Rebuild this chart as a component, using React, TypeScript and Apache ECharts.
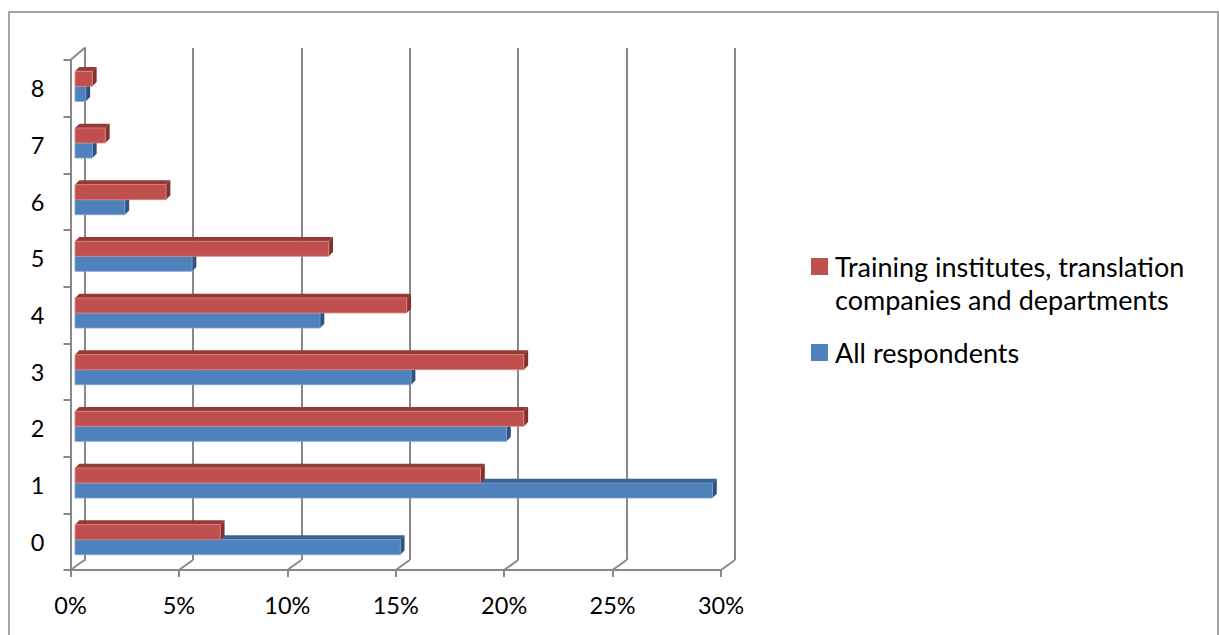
import React, { useEffect, useRef } from "react";
import * as echarts from "echarts";

const categories = ["0", "1", "2", "3", "4", "5", "6", "7", "8"];
const allRespondents = [15.0, 29.4, 19.9, 15.5, 11.3, 5.4, 2.3, 0.8, 0.5];
const trainingInstitutes = [6.7, 18.7, 20.7, 20.7, 15.3, 11.7, 4.2, 1.4, 0.8];
const xTicks = [0, 5, 10, 15, 20, 25, 30];

const RED_NAME = "Training institutes, translation companies and departments";
const BLUE_NAME = "All respondents";
const FONT = "Lato, 'Open Sans', sans-serif";
const GRID_COLOR = "#888888";

function barRenderer(upper: boolean, front: string, top: string, side: string, edge: string) {
  return (params: any, api: any) => {
    const v = api.value(0);
    const i = api.value(1);
    const p0 = api.coord([0, i]);
    const p1 = api.coord([v, i]);
    const band = api.size([0, 1])[1];
    const h = band * 0.265;
    const cy = p0[1] - 2;
    const y = upper ? cy - h : cy;
    const xs = p0[0] + 4.5;
    const xe = p1[0] + 4.5;
    const d = 4.3;
    return {
      type: "group",
      children: [
        {
          type: "polygon",
          shape: { points: [[xs, y], [xe, y], [xe + d, y - d], [xs + d, y - d]] },
          style: { fill: top },
        },
        {
          type: "polygon",
          shape: { points: [[xe, y], [xe + d, y - d], [xe + d, y + h - d], [xe, y + h]] },
          style: { fill: side },
        },
        {
          type: "rect",
          shape: { x: xs, y: y, width: Math.max(xe - xs, 0), height: h },
          style: { fill: front, stroke: edge, lineWidth: 0.8 },
        },
      ],
    };
  };
}

export default function App() {
  const ref = useRef<HTMLDivElement>(null);
  useEffect(() => {
    if (!ref.current) return;
    const chart = echarts.init(ref.current, null, { renderer: "svg" });
    const option: any = {
      animation: false,
      backgroundColor: "#ffffff",
      textStyle: { fontFamily: FONT },
      graphic: [
        {
          type: "rect",
          shape: { x: 9, y: 12, width: 1209, height: 640 },
          style: { fill: "none", stroke: "#878787", lineWidth: 1.5 },
          silent: true,
        },
      ],
      grid: [
        { left: 70.5, top: 60, right: 498, bottom: 65 },
        { left: 84.5, top: 48, right: 484, bottom: 75 },
      ],
      xAxis: [
        {
          type: "value",
          gridIndex: 0,
          min: 0,
          max: 30,
          interval: 5,
          axisLine: { show: true, lineStyle: { color: GRID_COLOR, width: 2 } },
          axisTick: { show: true, length: 7, lineStyle: { color: GRID_COLOR, width: 2 } },
          axisLabel: {
            formatter: "{value}%",
            color: "#000",
            fontSize: 23.5,
            fontFamily: FONT,
            margin: 23,
          },
          splitLine: { show: false },
        },
        {
          type: "value",
          gridIndex: 1,
          min: 0,
          max: 30,
          interval: 5,
          axisLine: { show: false },
          axisTick: { show: false },
          axisLabel: { show: false },
          splitLine: { show: true, lineStyle: { color: GRID_COLOR, width: 2 } },
        },
      ],
      yAxis: [
        {
          type: "category",
          gridIndex: 0,
          data: categories,
          axisLine: { show: true, lineStyle: { color: GRID_COLOR, width: 2 } },
          axisTick: { show: true, length: 7, lineStyle: { color: GRID_COLOR, width: 2 } },
          axisLabel: { color: "#000", fontSize: 23.5, fontFamily: FONT, margin: 26 },
          splitLine: { show: false },
        },
        {
          type: "category",
          gridIndex: 1,
          data: categories,
          axisLine: { show: true, lineStyle: { color: GRID_COLOR, width: 2 } },
          axisTick: { show: false },
          axisLabel: { show: false },
          splitLine: { show: false },
        },
      ],
      legend: {
        orient: "vertical",
        left: 811,
        top: 217,
        padding: 0,
        itemWidth: 17,
        itemHeight: 17,
        itemGap: 20,
        icon: "rect",
        selectedMode: false,
        formatter: (name: string) =>
          name === RED_NAME ? "\nTraining institutes, translation\ncompanies and departments" : name,
        data: [{ name: RED_NAME }, { name: BLUE_NAME }],
        textStyle: {
          color: "#000",
          fontSize: 27,
          fontFamily: FONT,
          lineHeight: 33,
          padding: [0, 0, 0, 2],
        },
      },
      series: [
        {
          type: "custom",
          name: "depthLines",
          coordinateSystem: "cartesian2d",
          xAxisIndex: 0,
          yAxisIndex: 0,
          silent: true,
          clip: false,
          z: 1,
          data: xTicks.map((t) => [t, 0]),
          renderItem: (params: any, api: any) => {
            const cs = params.coordSys;
            const x = api.coord([api.value(0), 0])[0];
            const yb = cs.y + cs.height;
            const children: any[] = [
              {
                type: "line",
                shape: { x1: x, y1: yb, x2: x + 14, y2: yb - 10 },
                style: { stroke: GRID_COLOR, lineWidth: 2 },
              },
            ];
            if (params.dataIndex === 0) {
              children.push({
                type: "line",
                shape: { x1: cs.x, y1: cs.y, x2: cs.x + 14, y2: cs.y - 12 },
                style: { stroke: GRID_COLOR, lineWidth: 2 },
              });
            }
            return { type: "group", children };
          },
        },
        {
          type: "custom",
          name: BLUE_NAME,
          coordinateSystem: "cartesian2d",
          xAxisIndex: 0,
          yAxisIndex: 0,
          clip: false,
          z: 3,
          itemStyle: { color: "#4F81BD" },
          data: allRespondents.map((v, i) => [v, i]),
          renderItem: barRenderer(false, "#4F81BD", "#3A6294", "#2F5283", "#7FA2D0"),
        },
        {
          type: "custom",
          name: RED_NAME,
          coordinateSystem: "cartesian2d",
          xAxisIndex: 0,
          yAxisIndex: 0,
          clip: false,
          z: 4,
          itemStyle: { color: "#C0504D" },
          data: trainingInstitutes.map((v, i) => [v, i]),
          renderItem: barRenderer(true, "#C0504D", "#943A37", "#85302D", "#D48A88"),
        },
      ],
    };
    chart.setOption(option);
    return () => chart.dispose();
  }, []);
  return (
    <div
      ref={ref}
      style={{ position: "fixed", left: 0, top: 0, width: 1219, height: 635, background: "#fff" }}
    />
  );
}
